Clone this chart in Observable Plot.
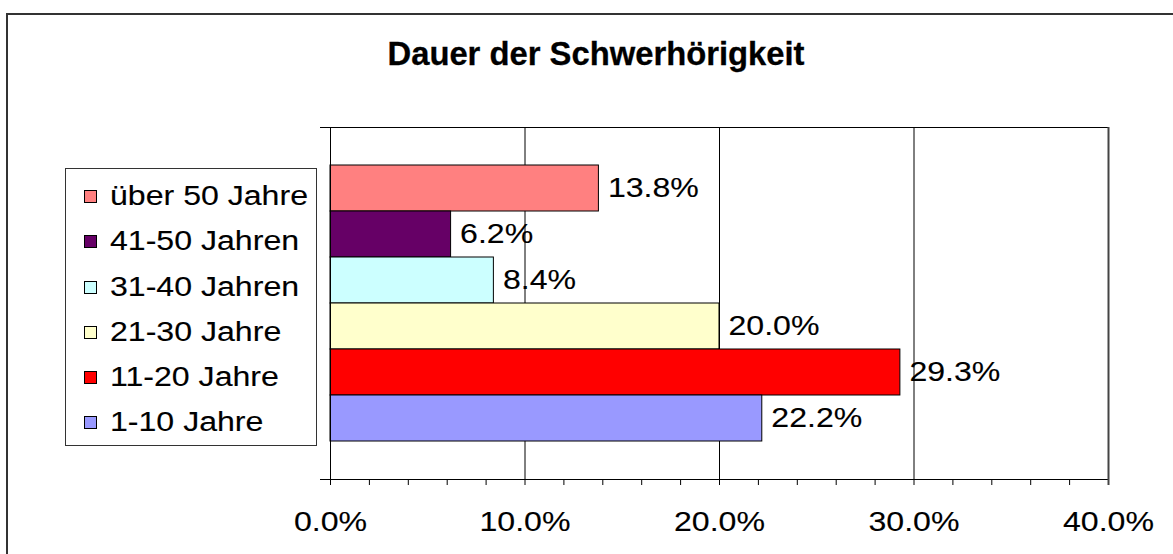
<!DOCTYPE html>
<html>
<head>
<meta charset="utf-8">
<script src="https://cdn.jsdelivr.net/npm/d3@7"></script>
<script src="https://cdn.jsdelivr.net/npm/@observablehq/plot@0.6"></script>
<style>
  html, body { margin: 0; padding: 0; background: #fff; overflow: hidden; }
  #wrap { position: relative; width: 1173px; height: 554px; overflow: hidden;
          font-family: "Liberation Sans", Arial, sans-serif; color: #000; }
  #wrap svg { position: absolute; left: 0; top: 0; }
  #wrap svg text { stroke: #000; stroke-width: 0.12px; }
  #border { position: absolute; left: 6px; top: 13px; width: 1400px; height: 800px;
            border-left: 2px solid #333; border-top: 2px solid #333; pointer-events: none; }
  #title { position: absolute; top: 37px; left: 595.5px; white-space: nowrap;
           font-weight: bold; font-size: 33px; line-height: 1; -webkit-text-stroke: 0.3px #000; }
  #legend { position: absolute; left: 65px; top: 168px; width: 252px; height: 278px;
            box-sizing: border-box; border: 1px solid #333; background: #fff; padding-top: 5px; }
  .row { position: relative; height: 45.3px; }
  .sw { position: absolute; left: 18px; width: 13px; height: 13px; box-sizing: border-box;
        border: 1px solid #000; top: 16px; }
  .lt { position: absolute; left: 44px; font-size: 27px; line-height: 45.3px; top: 0; white-space: nowrap;
        transform-origin: 0 50%; -webkit-text-stroke: 0.12px #000; }
</style>
</head>
<body>
<div id="wrap">
  <div id="title">Dauer der Schwerhörigkeit</div>
  <div id="legend"></div>
  <div id="border"></div>
</div>
<script>
const titleText = "Dauer der Schwerhörigkeit";
const categories = ["über 50 Jahre", "41-50 Jahren", "31-40 Jahren", "21-30 Jahre", "11-20 Jahre", "1-10 Jahre"];
const values = [0.138, 0.062, 0.084, 0.200, 0.293, 0.222];
const palette = ["#FF8080", "#660066", "#CCFFFF", "#FFFFCC", "#FF0000", "#9999FF"];
const majorTicks = [0, 0.1, 0.2, 0.3, 0.4];
const gridTicks = [0.1, 0.2, 0.3];
const minorTicks = [0, 0.02, 0.04, 0.06, 0.08, 0.1, 0.12, 0.14, 0.16, 0.18, 0.2,
                    0.22, 0.24, 0.26, 0.28, 0.3, 0.32, 0.34, 0.36, 0.38, 0.4];

const data = categories.map((c, i) => ({cat: c, value: values[i]}));
const pct = d3.format(".1%");

const chart = Plot.plot({
  width: 1173,
  height: 554,
  marginLeft: 330,
  marginRight: 65,
  marginTop: 127,
  marginBottom: 75,
  style: {background: "transparent", fontFamily: '"Liberation Sans", Arial, sans-serif', fontSize: "27px", color: "#000", overflow: "visible"},
  x: {domain: [0, 0.4], label: null},
  y: {domain: categories, paddingInner: 0, paddingOuter: 0.75, axis: null, label: null},
  color: {domain: categories, range: palette},
  marks: [
    Plot.gridX(gridTicks, {stroke: "#000", strokeOpacity: 1}),
    Plot.barX(data, {x: "value", y: "cat", fill: "cat", stroke: "#000", strokeWidth: 1}),
    Plot.text(data, {x: "value", y: "cat", text: d => pct(d.value), dx: 9, textAnchor: "start", fill: "#000", fontSize: 27}),
    Plot.frame({anchor: "left", stroke: "#000"}),
    Plot.frame({anchor: "top", insetLeft: -10, stroke: "#000"}),
    Plot.frame({anchor: "bottom", insetLeft: -10, stroke: "#000"}),
    Plot.axisX(minorTicks, {tickSize: 6, tickFormat: () => "", label: null}),
    Plot.axisX(majorTicks, {tickSize: 0, tickPadding: 32, tickFormat: pct, fontSize: 27, label: null}),
    Plot.ruleX([0.4], {stroke: "#444", strokeWidth: 2, insetBottom: -6})
  ]
});

const wrap = document.getElementById("wrap");
wrap.insertBefore(chart, wrap.firstChild);

// horizontally stretched text like the reference
const texts = [...chart.querySelectorAll("text")].filter(t => t.textContent.trim() !== "");
const refText = texts.find(t => t.textContent === "10.0%");
const fx = refText ? 91 / refText.getComputedTextLength() : 1.15;
texts.forEach(t => {
  const L = t.getComputedTextLength();
  t.setAttribute("textLength", L * fx);
  t.setAttribute("lengthAdjust", "spacingAndGlyphs");
});

// title
const title = document.getElementById("title");
title.textContent = titleText;
const tw = title.getBoundingClientRect().width;
title.style.transform = `translateX(-50%) scaleX(${417 / tw})`;

// legend
const legend = document.getElementById("legend");
categories.forEach((c, i) => {
  const row = document.createElement("div");
  row.className = "row";
  const sw = document.createElement("div");
  sw.className = "sw";
  sw.style.background = palette[i];
  const lt = document.createElement("span");
  lt.className = "lt";
  lt.textContent = c;
  row.appendChild(sw);
  row.appendChild(lt);
  legend.appendChild(row);
});
const spans = [...legend.querySelectorAll(".lt")];
const lw = spans[0].getBoundingClientRect().width;
const lf = 198 / lw;
spans.forEach(s => { s.style.transform = `scaleX(${lf})`; });
</script>
</body>
</html>
